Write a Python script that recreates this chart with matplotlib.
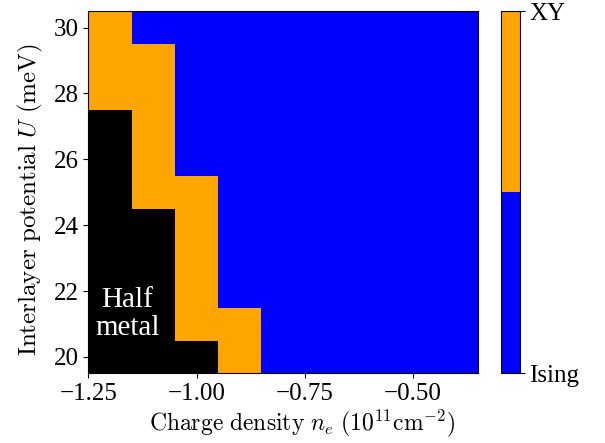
import numpy as np
import matplotlib
matplotlib.use("Agg")
import matplotlib.pyplot as plt
from matplotlib.colors import ListedColormap

plt.rcParams['font.family'] = ['Liberation Serif', 'DejaVu Serif']
plt.rcParams['mathtext.fontset'] = 'cm'

# charge density (1e11 cm^-2) and interlayer potential (meV) grid centres
n_e = [-1.2, -1.1, -1.0, -0.9, -0.8, -0.7, -0.6, -0.5, -0.4]
U = [20, 21, 22, 23, 24, 25, 26, 27, 28, 29, 30]

# phase: 0 = Ising, 1 = XY, nan = half metal
nan = np.nan
phase = [
    [nan, nan, nan, 1, 0, 0, 0, 0, 0],   # U=20
    [nan, nan, 1, 1, 0, 0, 0, 0, 0],     # U=21
    [nan, nan, 1, 0, 0, 0, 0, 0, 0],     # U=22
    [nan, nan, 1, 0, 0, 0, 0, 0, 0],     # U=23
    [nan, nan, 1, 0, 0, 0, 0, 0, 0],     # U=24
    [nan, 1, 1, 0, 0, 0, 0, 0, 0],       # U=25
    [nan, 1, 0, 0, 0, 0, 0, 0, 0],       # U=26
    [nan, 1, 0, 0, 0, 0, 0, 0, 0],       # U=27
    [1, 1, 0, 0, 0, 0, 0, 0, 0],         # U=28
    [1, 1, 0, 0, 0, 0, 0, 0, 0],         # U=29
    [1, 0, 0, 0, 0, 0, 0, 0, 0],         # U=30
]
phase_labels = ["Ising", "XY"]

Z = np.ma.masked_invalid(np.array(phase, dtype=float))
cmap = ListedColormap(["#0000ff", "#ffa500"])
cmap.set_bad("black")

fig = plt.figure(figsize=(6.05, 4.43), dpi=100)
ax = fig.add_axes([0.146, 0.157, 0.644, 0.818])
cax = fig.add_axes([0.828, 0.157, 0.031, 0.818])

mesh = ax.pcolormesh(n_e, U, Z, cmap=cmap, vmin=0, vmax=1, shading="nearest")

ax.text(-1.16, 21.3, "Half\nmetal", color="white", fontsize=21,
        ha="center", va="center", linespacing=1.1)

ax.set_xticks([-1.25, -1.0, -0.75, -0.5])
ax.set_yticks([20, 22, 24, 26, 28, 30])
ax.tick_params(labelsize=18)
ax.set_xlabel(r"$\mathrm{Charge\ density}\ n_e\ (10^{11}\mathrm{cm}^{-2})$", fontsize=17)
ax.set_ylabel(r"$\mathrm{Interlayer\ potential}\ U\ (\mathrm{meV})$", fontsize=18)
ax.xaxis.set_label_coords(0.548, -0.095)
ax.yaxis.set_label_coords(-0.11, 0.48)

cb = fig.colorbar(mesh, cax=cax, ticks=[0, 1])
cb.ax.set_yticklabels(phase_labels)
cb.ax.tick_params(labelsize=18)

fig.savefig("out.png", dpi=100)
